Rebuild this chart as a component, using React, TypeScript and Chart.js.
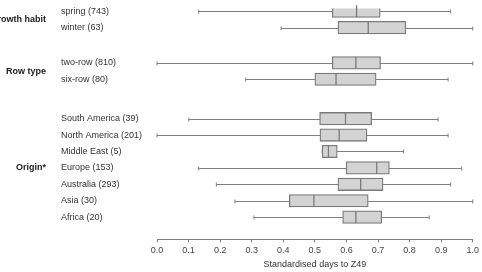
import React, { useEffect, useRef } from 'react';
import { Chart, registerables } from 'chart.js';

Chart.register(...registerables);

const groupNames = ['Growth habit', 'Row type', 'Origin*'];
const categories = [
  'spring (743)', 'winter (63)',
  'two-row (810)', 'six-row (80)',
  'South America (39)', 'North America (201)', 'Middle East (5)', 'Europe (153)',
  'Australia (293)', 'Asia (30)', 'Africa (20)',
];
const categoryGroup = [0, 0, 1, 1, 2, 2, 2, 2, 2, 2, 2];
const whiskerLow = [0.132, 0.393, 0.0, 0.281, 0.101, 0.0, 0.523, 0.132, 0.188, 0.247, 0.307];
const quartile1 = [0.555, 0.573, 0.555, 0.5, 0.515, 0.516, 0.523, 0.599, 0.573, 0.419, 0.588];
const medians = [0.632, 0.669, 0.63, 0.567, 0.597, 0.577, 0.543, 0.696, 0.645, 0.497, 0.63];
const quartile3 = [0.707, 0.788, 0.708, 0.694, 0.68, 0.665, 0.571, 0.736, 0.716, 0.669, 0.712];
const whiskerHigh = [0.93, 1.0, 1.0, 0.922, 0.89, 0.922, 0.781, 0.965, 0.93, 1.0, 0.862];
const axisTitle = 'Standardised days to Z49';

// layout: extra vertical space inserted before each group (in row units)
const GROUP_OFFSET = [0, 1.15, 2.55];
const rowPos = categories.map((_, i) => i + GROUP_OFFSET[categoryGroup[i]]);

const FONT = "'Liberation Sans', Arial, Helvetica, sans-serif";
const LINE = '#7a7a7a';

const boxParts = {
  id: 'boxParts',
  beforeDatasetsDraw(chart: any) {
    const { ctx, scales } = chart;
    const xs = scales.x;
    const ys = scales.y;
    ctx.save();
    ctx.strokeStyle = '#808080';
    ctx.lineWidth = 1;
    categories.forEach((_, i) => {
      const y = Math.round(ys.getPixelForValue(rowPos[i])) + 0.5;
      const x0 = xs.getPixelForValue(whiskerLow[i]);
      const x1 = xs.getPixelForValue(whiskerHigh[i]);
      ctx.beginPath();
      ctx.moveTo(x0, y);
      ctx.lineTo(x1, y);
      ctx.moveTo(x0, y - 2);
      ctx.lineTo(x0, y + 2);
      ctx.moveTo(x1, y - 2);
      ctx.lineTo(x1, y + 2);
      ctx.stroke();
    });
    ctx.restore();
  },
  afterDatasetsDraw(chart: any) {
    const { ctx, scales } = chart;
    const xs = scales.x;
    const ys = scales.y;
    ctx.save();
    ctx.strokeStyle = LINE;
    ctx.lineWidth = 1.3;
    categories.forEach((_, i) => {
      const y = ys.getPixelForValue(rowPos[i]);
      const xm = xs.getPixelForValue(medians[i]);
      ctx.beginPath();
      ctx.moveTo(xm, y - 6);
      ctx.lineTo(xm, y + 6);
      ctx.stroke();
    });
    ctx.restore();
  },
  afterDraw(chart: any) {
    const { ctx, scales } = chart;
    const ys = scales.y;
    ctx.save();
    ctx.fillStyle = '#222';
    ctx.font = `bold 9px ${FONT}`;
    ctx.textAlign = 'right';
    ctx.textBaseline = 'middle';
    groupNames.forEach((name, g) => {
      const idx = categoryGroup.map((gg, i) => (gg === g ? i : -1)).filter((i) => i >= 0);
      const a = ys.getPixelForValue(rowPos[idx[0]]);
      const b = ys.getPixelForValue(rowPos[idx[idx.length - 1]]);
      ctx.fillText(name, 46, (a + b) / 2);
    });
    ctx.restore();
  },
};

export default function App() {
  const ref = useRef<HTMLCanvasElement>(null);
  useEffect(() => {
    const first = 0;
    const last = rowPos[rowPos.length - 1];
    const chart = new Chart(ref.current as HTMLCanvasElement, {
      type: 'bar',
      data: {
        datasets: [
          {
            data: categories.map((_, i) => ({ x: [quartile1[i], quartile3[i]], y: rowPos[i] })) as any,
            backgroundColor: '#d3d3d3',
            borderColor: LINE,
            borderWidth: 1.3,
            borderSkipped: false,
            barThickness: 12.5,
          },
        ],
      },
      plugins: [boxParts],
      options: {
        animation: false,
        responsive: false,
        indexAxis: 'y',
        layout: { padding: { left: 61, right: 4, top: 0, bottom: 2 } },
        plugins: { legend: { display: false }, tooltip: { enabled: false } },
        scales: {
          x: {
            type: 'linear',
            min: 0,
            max: 1,
            grid: { drawOnChartArea: false, drawTicks: true, tickLength: 3, color: '#808080' },
            border: { display: true, color: '#808080', width: 1 },
            ticks: {
              stepSize: 0.1,
              padding: 3,
              color: '#444',
              font: { family: FONT, size: 9 },
              callback: (v: any) => Number(v).toFixed(1),
            },
            title: {
              display: true,
              text: axisTitle,
              color: '#333',
              font: { family: FONT, size: 9 },
              padding: { top: 0, bottom: 0 },
            },
          },
          y: {
            type: 'linear',
            reverse: true,
            offset: false,
            bounds: 'data',
            min: first - 0.17,
            max: last + 1.358,
            grid: { display: false, offset: false },
            border: { display: false },
            afterBuildTicks: (scale: any) => {
              scale.ticks = rowPos.map((v) => ({ value: v }));
            },
            afterFit: (scale: any) => {
              scale.width = 157 - 61;
            },
            ticks: {
              autoSkip: false,
              crossAlign: 'far',
              color: '#333',
              font: { family: FONT, size: 9 },
              callback: (_v: any, i: number) => categories[i],
            },
          },
        },
      } as any,
    });
    return () => chart.destroy();
  }, []);
  return (
    <div style={{ position: 'absolute', left: 0, top: 0, width: 482, height: 272 }}>
      <canvas ref={ref} width={482} height={272} />
    </div>
  );
}
